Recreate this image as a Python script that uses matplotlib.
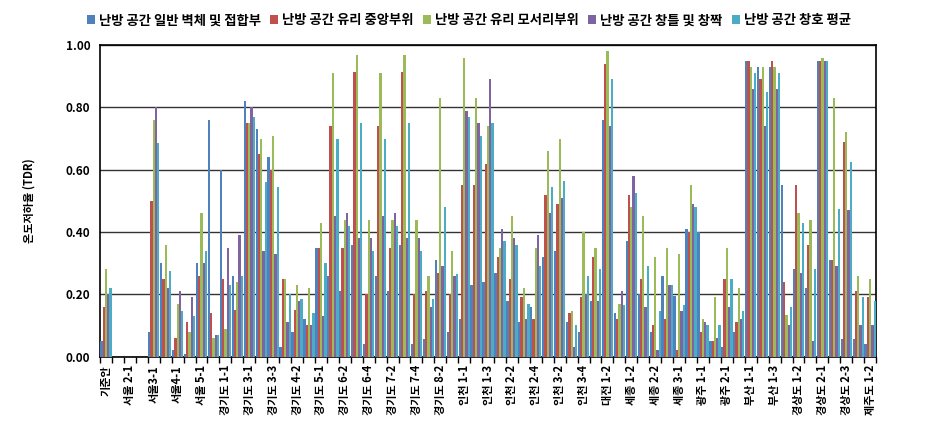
import numpy as np
import matplotlib
matplotlib.use("Agg")
import matplotlib.pyplot as plt
from matplotlib.ticker import FixedLocator

plt.rcParams['font.family'] = ['Noto Sans CJK KR', 'DejaVu Sans']

# shown labels (every other category)
labels = ['기준안', '서울 2-1', '서울3-1', '서울4-1', '서울 5-1', '경기도 1-1', '경기도 3-1',
          '경기도 3-3', '경기도 4-2', '경기도 5-1', '경기도 6-2', '경기도 6-4', '경기도 7-2',
          '경기도 7-4', '경기도 8-2', '인천 1-1', '인천 1-3', '인천 2-2', '인천 2-4', '인천 3-2',
          '인천 3-4', '대전 1-2', '세종 1-2', '세종 2-2', '세종 3-1', '광주 1-1', '광주 2-1',
          '부산 1-1', '부산 1-3', '경상도 1-2', '경상도 2-1', '경상도 2-3', '제주도 1-2']

series_names = ['난방 공간 일반 벽체 및 접합부', '난방 공간 유리 중앙부위', '난방 공간 유리 모서리부위',
                '난방 공간 창틀 및 창짝', '난방 공간 창호 평균']

wall = [0.05, 0, 0, 0, 0.08, 0.30, 0.02, 0.01, 0.30, 0.76, 0.60, 0.26, 0.82, 0.73, 0.64,
        0.03, 0.08, 0.12, 0.35, 0.26, 0.21, 0.36, 0.04, 0.26, 0.21, 0.36, 0.04, 0.055, 0.31,
        0.08, 0.12, 0.23, 0.24, 0.27, 0.18, 0.11, 0.16, 0.32, 0.34, 0.11, 0.08, 0.18, 0.76,
        0.14, 0.37, 0.20, 0.08, 0.26, 0.195, 0.41, 0.40, 0.05, 0.03, 0.08, 0.95, 0.93, 0.93,
        0.55, 0.28, 0.22, 0.95, 0.31, 0.055, 0.055, 0.04]
glass_center = [0.16, 0, 0, 0, 0.50, 0.25, 0.06, 0.11, 0.26, 0.14, 0.25, 0.15, 0.75, 0.65, 0.60,
                0.25, 0.15, 0.10, 0.35, 0.74, 0.35, 0.915, 0.20, 0.74, 0.35, 0.915, 0.20, 0.21, 0.27,
                0.20, 0.55, 0.55, 0.62, 0.32, 0.25, 0.19, 0.12, 0.52, 0.49, 0.14, 0.19, 0.32, 0.94,
                0.12, 0.52, 0.25, 0.10, 0.12, 0.02, 0.40, 0.08, 0.05, 0.25, 0.11, 0.95, 0.89, 0.95,
                0.24, 0.55, 0.36, 0.95, 0.31, 0.69, 0.21, 0.19]
glass_edge = [0.28, 0, 0, 0, 0.76, 0.36, 0.17, 0.08, 0.46, 0.06, 0.09, 0.24, 0.75, 0.70, 0.71,
              0.25, 0.23, 0.22, 0.43, 0.91, 0.44, 0.97, 0.44, 0.91, 0.44, 0.97, 0.44, 0.26, 0.83,
              0.34, 0.96, 0.83, 0.74, 0.35, 0.45, 0.22, 0.35, 0.66, 0.70, 0.147, 0.40, 0.35, 0.98,
              0.17, 0.48, 0.45, 0.32, 0.35, 0.33, 0.55, 0.12, 0.19, 0.35, 0.22, 0.93, 0.93, 0.93,
              0.135, 0.46, 0.44, 0.96, 0.83, 0.72, 0.26, 0.25]
frame = [0.20, 0, 0, 0, 0.80, 0.22, 0.21, 0.19, 0.30, 0.07, 0.35, 0.39, 0.80, 0.34, 0.33,
         0.11, 0.18, 0.10, 0.13, 0.45, 0.46, 0.38, 0.38, 0.45, 0.46, 0.38, 0.38, 0.16, 0.29,
         0.26, 0.79, 0.75, 0.89, 0.41, 0.38, 0.12, 0.39, 0.46, 0.51, 0.03, 0.20, 0.18, 0.74,
         0.21, 0.58, 0.16, 0.02, 0.23, 0.145, 0.49, 0.11, 0.06, 0.16, 0.12, 0.86, 0.74, 0.86,
         0.10, 0.27, 0.05, 0.95, 0.29, 0.47, 0.10, 0.10]
window_avg = [0.22, 0, 0, 0, 0.685, 0.275, 0.145, 0.13, 0.34, 0.07, 0.23, 0.26, 0.77, 0.56, 0.545,
              0.20, 0.185, 0.14, 0.30, 0.70, 0.42, 0.75, 0.34, 0.70, 0.42, 0.75, 0.34, 0.185, 0.48,
              0.265, 0.77, 0.71, 0.75, 0.37, 0.36, 0.17, 0.29, 0.545, 0.565, 0.10, 0.26, 0.28, 0.89,
              0.165, 0.525, 0.29, 0.145, 0.23, 0.165, 0.48, 0.10, 0.10, 0.25, 0.145, 0.91, 0.85, 0.91,
              0.16, 0.43, 0.28, 0.95, 0.475, 0.625, 0.19, 0.18]

colors = ['#4F81BD', '#C0504D', '#9BBB59', '#8064A2', '#4BACC6']
data = [wall, glass_center, glass_edge, frame, window_avg]

n = len(wall)
x = np.arange(n)
fig = plt.figure(figsize=(9.35, 4.43), dpi=100)
ax = fig.add_axes([0.107, 0.195, 0.83, 0.703])

w = 0.19
for k in range(5):
    ax.bar(x + (k - 2) * w, data[k], width=w, color=colors[k], label=series_names[k], zorder=3)

ax.set_xlim(-0.5, n - 0.5)
ax.set_ylim(0, 1.0)
ax.set_yticks(np.arange(0, 1.01, 0.2))
ax.set_yticklabels(['%.2f' % v for v in np.arange(0, 1.01, 0.2)], fontsize=8.5, fontweight='bold')
ax.yaxis.grid(True, color='#333333', linewidth=1.0, zorder=0)
ax.tick_params(axis='y', length=0, pad=7)

ax.set_xticks(x[::2])
ax.set_xticklabels(labels, rotation=90, fontsize=8, fontweight='bold')
ax.tick_params(axis='x', which='major', length=0, pad=6)
ax.xaxis.set_minor_locator(FixedLocator(np.arange(-0.5, n, 1.0)))
ax.tick_params(axis='x', which='minor', length=4, width=1)

for s in ax.spines.values():
    s.set_color('black')
    s.set_linewidth(1.2)

ax.set_ylabel('온도저하율 (TDR)', fontsize=8, fontweight='bold', labelpad=22)

ax.legend(loc='lower center', bbox_to_anchor=(0.475, 1.04), ncol=5, frameon=False,
          prop={'size': 9.6, 'weight': 'bold'}, handlelength=0.6, handleheight=0.6,
          handletextpad=0.3, columnspacing=0.7, borderaxespad=0)

fig.savefig('out.png', dpi=100)
